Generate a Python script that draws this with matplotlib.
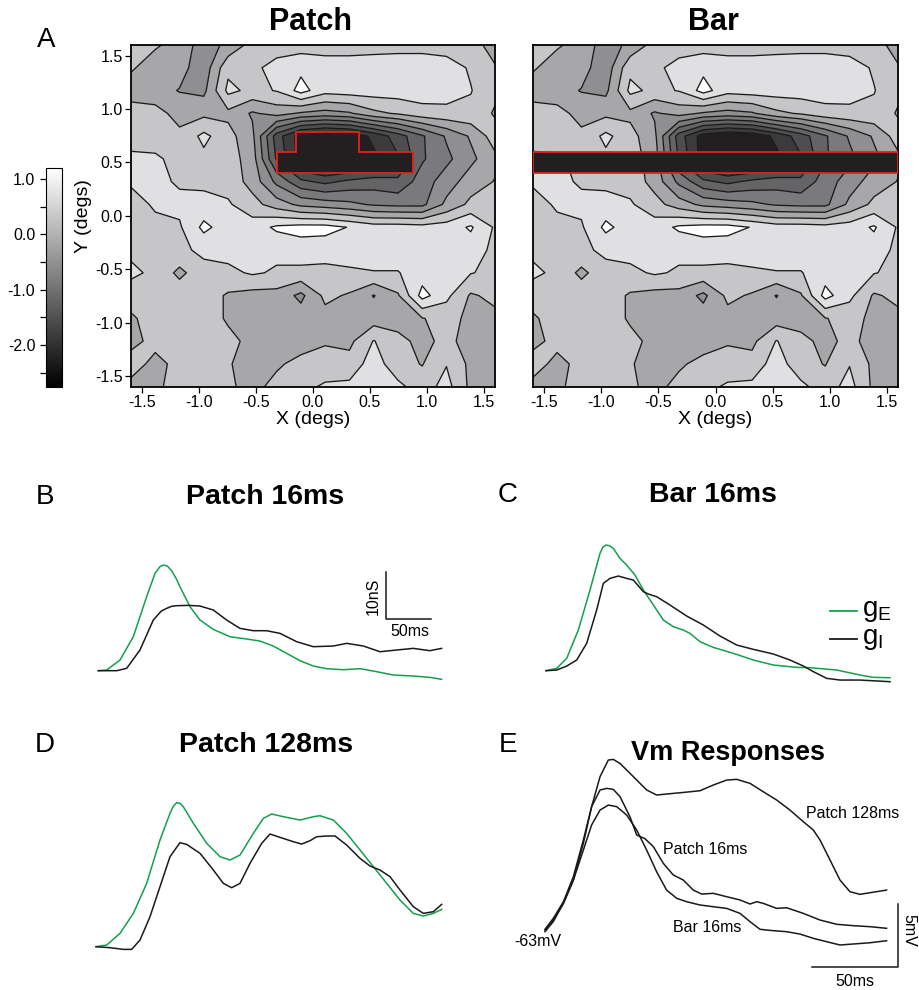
import numpy as np
import matplotlib
matplotlib.use('Agg')
import matplotlib.pyplot as plt
from matplotlib.patches import Polygon, Rectangle
from matplotlib import cm, colors as mcolors

plt.rcParams['font.family'] = ['Liberation Sans', 'DejaVu Sans']
plt.rcParams['mathtext.fontset'] = 'custom'
plt.rcParams['mathtext.rm'] = 'Liberation Sans'
plt.rcParams['contour.negative_linestyle'] = 'solid'

# ---------------- data: receptive-field maps (16 x 16 grid, rows top->bottom) ----------------
grid_x = np.linspace(-1.6, 1.6, 16)
grid_y_top_to_bottom = np.linspace(1.6, -1.6, 16)
rf_rows = [
    [0.2, 0.05, -0.15, -0.6, -0.3, 0.15, 0.2, 0.22, 0.22, 0.22, 0.22, 0.22, 0.22, 0.2, 0.1, -0.1],
    [0.05, -0.2, -0.25, -0.65, 0.3, 0.3, 0.55, 0.7, 0.6, 0.6, 0.65, 0.7, 0.7, 0.6, 0.35, 0.02],
    [-0.2, -0.25, -0.42, -0.5, 0.5, 0.3, 0.42, 0.95, 0.55, 0.6, 0.6, 0.6, 0.6, 0.55, 0.42, 0.1],
    [0.2, 0.15, -0.15, -0.1, -0.1, -0.45, -0.25, -0.45, -0.55, -0.45, -0.1, 0.05, 0.25, 0.3, 0.3, -0.05],
    [0.2, 0.25, 0.1, 0.5, 0.15, -0.3, -1.8, -2.6, -2.8, -2.7, -2.3, -1.8, -1.25, -0.75, -0.35, 0.2],
    [0.5, 0.45, 0.3, 0.3, 0.2, -0.2, -1.65, -2.6, -2.9, -2.8, -2.5, -2.05, -1.25, -0.9, -0.5, -0.1],
    [0.45, 0.5, 0.35, 0.3, 0.25, -0.15, -0.9, -1.5, -1.7, -1.5, -1.4, -1.5, -1.0, -0.6, -0.2, 0.02],
    [0.25, 0.45, 0.5, 0.55, 0.45, 0.15, -0.2, -0.5, -0.6, -0.7, -0.85, -0.9, -0.9, -0.3, 0.1, 0.2],
    [0.2, 0.3, 0.35, 0.9, 0.6, 0.6, 0.87, 0.95, 0.95, 0.78, 0.6, 0.6, 0.55, 0.6, 0.85, 0.35],
    [0.3, 0.3, 0.3, 0.5, 0.55, 0.5, 0.5, 0.6, 0.55, 0.55, 0.6, 0.6, 0.6, 0.6, 0.6, 0.3],
    [0.5, 0.3, -0.1, 0.25, 0.3, 0.45, 0.35, 0.3, 0.3, 0.35, 0.38, 0.38, 0.6, 0.6, 0.42, 0.3],
    [0.15, 0.25, 0.25, 0.2, -0.05, -0.15, -0.15, -0.5, 0.1, -0.05, -0.42, -0.05, 0.95, 0.5, -0.05, 0.1],
    [-0.05, 0.15, 0.25, 0.2, -0.05, -0.2, -0.2, -0.2, -0.15, -0.15, -0.2, -0.15, -0.02, 0.15, -0.1, -0.1],
    [-0.1, 0.1, 0.25, 0.2, 0.1, -0.1, -0.15, -0.15, -0.05, -0.1, 0.42, 0.1, -0.1, 0.1, -0.15, -0.1],
    [0.15, -0.1, 0.1, 0.25, 0.02, -0.1, -0.05, 0.1, 0.2, 0.15, 0.6, 0.15, -0.02, 0.38, -0.1, -0.15],
    [-0.1, -0.05, 0.1, 0.2, 0.05, -0.1, 0.1, 0.3, 0.45, 0.5, 0.6, 0.5, 0.2, 0.55, -0.1, -0.15],
]
contour_levels = [-2.4, -2.0, -1.6, -1.2, -0.8, -0.4, 0.0, 0.4, 0.8]
band_colors = ['#231f20', '#3b3a3c', '#4e4d50', '#646366', '#7a797c', '#8f8e91',
               '#a7a7aa', '#c6c6c8', '#e0e0e2', '#ffffff']
colorbar_range = (-2.75, 1.19)
colorbar_ticks = [1.0, 0.0, -1.0, -2.0]
colorbar_ticklabels = ['1.0', '0.0', '-1.0', '-2.0']
map_ticks = [-1.5, -1.0, -0.5, 0.0, 0.5, 1.0, 1.5]
map_ticklabels = ['-1.5', '-1.0', '-0.5', '0.0', '0.5', '1.0', '1.5']

patch_outline_x = [-0.317, 0.88, 0.88, 0.407, 0.407, -0.15, -0.15, -0.317]
patch_outline_y = [0.40, 0.40, 0.60, 0.60, 0.783, 0.783, 0.60, 0.60]
bar_x = (-1.595, 1.595)
bar_y = (0.40, 0.60)

# ---------------- data: conductance traces (ms, nS) ----------------
B_gE_t = [0, 9.3, 24.1, 38.9, 53.7, 63.0, 68.5, 72.2, 76.7, 81.5, 87.0, 90.7, 101.9, 113.0, 127.8, 146.3,
          164.8, 179.6, 194.4, 209.3, 224.1, 238.9, 253.7, 272.2, 290.8, 309.3, 327.8, 350.0, 368.5, 381.5]
B_gE = [0, 0.14, 2.27, 7.23, 15.74, 20.71, 22.13, 22.48, 22.27, 21.28, 19.43, 17.87, 13.62, 10.78, 8.79, 7.23,
        6.74, 6.31, 5.25, 3.69, 2.13, 0.99, 0.43, 0.21, 0.43, -0.21, -0.92, -1.13, -1.42, -1.84]
B_gI_t = [0, 20.4, 31.5, 46.3, 61.1, 70.0, 75.9, 81.5, 87.0, 100.0, 113.0, 127.8, 142.6, 157.4, 172.2,
          187.0, 201.9, 220.4, 238.9, 261.1, 276.0, 294.5, 313.0, 331.5, 350.0, 368.5, 381.5]
B_gI = [0, 0, 0.50, 4.40, 10.78, 12.7, 13.26, 13.7, 13.83, 13.9, 13.76, 12.91, 10.78, 9.01, 8.51,
        8.51, 7.94, 6.17, 5.11, 5.25, 5.82, 5.25, 4.04, 4.40, 4.75, 4.26, 4.75]

C_gE_t = [0, 11.9, 23.0, 35.9, 48.9, 60.0, 63.0, 66.7, 70.4, 74.8, 82.2, 89.6, 98.9, 108.2, 119.3, 130.4,
          141.5, 152.6, 160.0, 171.1, 185.9, 208.2, 230.4, 252.6, 278.5, 293.4, 323.0, 348.9, 363.7, 382.3]
C_gE = [0, 0.50, 2.62, 8.65, 17.16, 24.96, 26.24, 26.74, 26.60, 26.03, 23.90, 22.48, 20.35, 17.16, 13.97,
        10.78, 9.36, 8.65, 7.94, 6.17, 4.96, 3.69, 2.27, 1.21, 0.71, 0.64, 0.14, -0.92, -1.42, -1.49]
C_gI_t = [0, 11.9, 23.0, 34.1, 45.2, 56.3, 63.7, 71.1, 80.4, 89.6, 97.0, 108.2, 113.7, 123.0, 137.8,
          156.3, 174.8, 193.3, 211.9, 230.4, 252.6, 271.1, 286.0, 297.1, 311.9, 326.7, 348.9, 382.3]
C_gI = [0, 0.14, 0.99, 2.27, 5.82, 12.91, 18.58, 19.64, 20.14, 19.64, 19.29, 16.81, 16.31, 15.74, 13.97,
        11.63, 9.72, 7.38, 5.46, 4.54, 3.55, 2.27, 0.99, -0.21, -1.63, -1.99, -1.99, -2.34]

D_gE_t = [0, 11.9, 26.7, 41.5, 56.3, 71.1, 82.2, 86.0, 89.6, 93.3, 97.0, 108.2, 123.0, 137.8, 148.9, 160.0,
          174.8, 185.9, 195.2, 208.2, 226.7, 241.5, 248.9, 263.7, 278.5, 293.4, 308.2, 323.0, 337.8,
          352.6, 363.7, 374.8, 384.1]
D_gE = [0, 0.35, 2.84, 7.09, 13.47, 22.69, 28.37, 29.9, 30.64, 30.5, 29.79, 26.24, 21.99, 19.15, 18.44,
        19.50, 24.11, 27.30, 28.23, 27.66, 26.95, 27.66, 27.87, 26.95, 24.11, 20.57, 17.02, 13.47,
        9.93, 7.09, 6.52, 7.09, 7.94]
D_gI_t = [0, 15.6, 30.4, 39.6, 48.9, 60.0, 71.1, 82.2, 93.3, 100.7, 115.6, 130.4, 141.5, 150.7, 160.0,
          171.1, 184.1, 193.3, 204.5, 219.3, 228.5, 237.8, 245.2, 256.3, 265.6, 278.5, 293.4, 304.5,
          315.6, 326.7, 337.8, 352.6, 363.7, 374.8, 384.1]
D_gI = [0, -0.21, -0.57, -0.57, 1.42, 6.38, 12.77, 19.15, 22.13, 21.77, 19.86, 16.31, 13.47, 12.55, 13.47,
        17.73, 21.99, 23.97, 23.26, 22.34, 21.84, 22.55, 23.40, 23.55, 23.55, 21.63, 18.79, 17.16,
        16.31, 14.89, 12.06, 8.51, 7.09, 7.45, 9.01]

# ---------------- data: Vm traces (ms, mV) ----------------
E_t = [0, 4.8, 10.7, 16.5, 22.3, 27.1, 32.0, 36.8, 39.7, 43.6, 51.4, 59.1, 64.9, 70.7, 78.5, 90.1, 97.9,
       105.6, 111.4, 119.2, 126.9, 134.7, 142.4, 150.2, 156.0, 159.9, 165.7, 171.5, 177.3, 183.1, 189.0, 198.6]
E_patch128 = [-62.95, -62.15, -60.82, -58.96, -56.04, -53.11, -50.72, -49.39, -49.34, -49.66, -50.72,
              -51.78, -52.18, -52.10, -52.00, -51.84, -51.38, -50.99, -50.93, -51.25, -51.92, -52.58,
              -53.38, -54.31, -54.97, -55.77, -57.36, -58.96, -59.89, -60.10, -59.97, -59.76]
E_t16 = [0, 4.8, 10.7, 16.5, 22.3, 27.1, 32.0, 35.9, 39.7, 43.6, 49.4, 53.3, 58.1, 63.0, 68.8, 74.6, 80.4,
         86.2, 91.1, 97.9, 105.6, 113.4, 119.2, 123.1, 126.9, 134.7, 140.5, 150.2, 159.9, 169.6, 179.3,
         189.0, 198.6]
E_patch16 = [-62.89, -62.02, -60.69, -58.69, -55.77, -53.11, -51.78, -51.65, -51.73, -52.31, -53.91,
             -55.37, -55.66, -56.30, -57.63, -58.56, -58.96, -59.76, -60.08, -60.02, -60.29, -60.55,
             -60.87, -60.69, -60.82, -61.22, -61.17, -61.62, -62.15, -62.49, -62.60, -62.68, -62.81]
E_tbar = [0, 4.8, 10.7, 16.5, 22.3, 27.1, 32.0, 36.8, 41.7, 47.5, 53.3, 59.1, 64.9, 70.7, 76.6, 82.4,
          90.1, 97.9, 105.6, 113.4, 119.2, 125.0, 132.8, 140.5, 148.3, 156.0, 163.8, 171.5, 179.3,
          189.0, 198.6]
E_bar16 = [-63.08, -62.28, -60.82, -58.96, -56.57, -54.57, -53.38, -52.98, -53.11, -53.78, -54.97,
           -56.57, -58.30, -59.76, -60.42, -60.69, -60.95, -61.09, -61.22, -61.62, -62.28, -62.89,
           -63.00, -63.08, -63.27, -63.61, -63.88, -64.14, -64.06, -63.96, -63.80]

GREEN = '#12a04c'
W, H = 920, 990
fig = plt.figure(figsize=(W / 100, H / 100), dpi=100)


def px_axes(l, t, r, b):
    return fig.add_axes([l / W, 1 - b / H, (r - l) / W, (b - t) / H])


def ftext(x, y, s, **kw):
    return fig.text(x / W, 1 - y / H, s, **kw)


# ---------------- maps ----------------
Z = np.array(rf_rows)[::-1]
gy = grid_y_top_to_bottom[::-1]
fill_levels = [-10] + contour_levels + [10]


def draw_map(ax, ylabels):
    ax.contourf(grid_x, gy, Z, levels=fill_levels, colors=band_colors)
    ax.contour(grid_x, gy, Z, levels=contour_levels, colors='#1a1a1a', linewidths=0.95,
               linestyles='solid')
    ax.set_xlim(-1.6, 1.6)
    ax.set_ylim(-1.6, 1.6)
    ax.set_xticks(map_ticks)
    ax.set_xticklabels(map_ticklabels)
    ax.tick_params(direction='out', length=4, width=0.9, labelsize=11.5, pad=2)
    if ylabels:
        ax.set_yticks(map_ticks)
        ax.set_yticklabels(map_ticklabels)
    else:
        ax.set_yticks([])
    ax.set_xlabel('X (degs)', fontsize=14, labelpad=1)
    for sp in ax.spines.values():
        sp.set_linewidth(1.3)


axA = px_axes(131, 45, 495, 386.7)
draw_map(axA, True)
axA.set_ylabel('Y (degs)', fontsize=14, labelpad=2)
axA.add_patch(Polygon(np.column_stack([patch_outline_x, patch_outline_y]), closed=True,
                      facecolor='#231f20', edgecolor='#e3231b', linewidth=1.3, zorder=5))

axA2 = px_axes(532.7, 45, 898.3, 386.7)
draw_map(axA2, False)
axA2.add_patch(Rectangle((bar_x[0], bar_y[0]), bar_x[1] - bar_x[0], bar_y[1] - bar_y[0],
                         facecolor='#231f20', edgecolor='#e3231b', linewidth=1.3, zorder=5))

cax = px_axes(45.7, 168.3, 62.3, 386.7)
sm = cm.ScalarMappable(norm=mcolors.Normalize(*colorbar_range), cmap='gray')
cb = fig.colorbar(sm, cax=cax)
cb.set_ticks(colorbar_ticks)
cb.set_ticklabels(colorbar_ticklabels)
cax.yaxis.set_ticks_position('left')
cax.set_yticks([0.5, -0.5, -1.5, -2.5], minor=True)
cax.tick_params(which='both', direction='out', length=4, width=0.9, labelsize=11.5)
cb.outline.set_linewidth(0.8)

ftext(311, 22, 'Patch', fontsize=22, fontweight='bold', ha='center', va='center')
ftext(713, 22, 'Bar', fontsize=22, fontweight='bold', ha='center', va='center')


# ---------------- traces ----------------
def trace_axes(l, t, r, b, t0px, basepx, xperpx, yperpx, y0=0.0):
    ax = px_axes(l, t, r, b)
    ax.set_xlim((l - t0px) * xperpx, (r - t0px) * xperpx)
    ax.set_ylim(y0 + (basepx - b) * yperpx, y0 + (basepx - t) * yperpx)
    ax.axis('off')
    return ax


ms_px = 50 / 45
ns_px = 10 / 47
axB = trace_axes(85, 520, 460, 700, 98.3, 670.7, ms_px, ns_px)
axB.plot(B_gE_t, B_gE, color=GREEN, lw=1.1)
axB.plot(B_gI_t, B_gI, color='#1a1a1a', lw=1.1)
axB.plot([320, 320, 370], [21, 11, 11], color='#1a1a1a', lw=1.1)
axB.text(305, 15.8, '10nS', rotation=90, ha='center', va='center', fontsize=11.5)
axB.text(346, 8.4, '50ms', ha='center', va='center', fontsize=11.5)

axC = trace_axes(530, 520, 910, 700, 546, 670.7, ms_px, ns_px)
axC.plot(C_gE_t, C_gE, color=GREEN, lw=1.1)
axC.plot(C_gI_t, C_gI, color='#1a1a1a', lw=1.1)
axC.plot([315.6, 345.2], [12.6, 12.6], color=GREEN, lw=1.3)
axC.plot([315.6, 345.2], [6.75, 6.75], color='#1a1a1a', lw=1.3)
axC.text(351, 12.6, r'$\mathregular{g_E}$', fontsize=20, ha='left', va='center')
axC.text(351, 6.75, r'$\mathregular{g_I}$', fontsize=20, ha='left', va='center')

axD = trace_axes(85, 770, 460, 960, 96, 946.7, ms_px, ns_px)
axD.plot(D_gE_t, D_gE, color=GREEN, lw=1.1)
axD.plot(D_gI_t, D_gI, color='#1a1a1a', lw=1.1)

ms_px_E = 50 / 86
mv_px_E = 5 / 62.7
axE = trace_axes(530, 740, 915, 988, 545, 930.7, ms_px_E, mv_px_E, y0=-63.0)
axE.plot(E_t, E_patch128, color='#1a1a1a', lw=1.1)
axE.plot(E_t16, E_patch16, color='#1a1a1a', lw=1.1)
axE.plot(E_tbar, E_bar16, color='#1a1a1a', lw=1.1)
axE.plot([155.1, 205.1, 205.1], [-65.87, -65.87, -60.87], color='#1a1a1a', lw=1.1)

ftext(853, 813, 'Patch 128ms', fontsize=11.5, ha='center', va='center')
ftext(663, 850, 'Patch 16ms', fontsize=11.5, ha='left', va='center')
ftext(673, 927, 'Bar 16ms', fontsize=11.5, ha='left', va='center')
ftext(538, 942, '-63mV', fontsize=11.5, ha='center', va='center')
ftext(909, 930, '5mV', fontsize=11.5, rotation=270, ha='center', va='center')
ftext(855, 982, '50ms', fontsize=11.5, ha='center', va='center')

# titles and letters
ftext(265, 497, 'Patch 16ms', fontsize=20.5, fontweight='bold', ha='center', va='center')
ftext(713, 495, 'Bar 16ms', fontsize=20.5, fontweight='bold', ha='center', va='center')
ftext(266, 745, 'Patch 128ms', fontsize=20.5, fontweight='bold', ha='center', va='center')
ftext(728, 753, 'Vm Responses', fontsize=19.5, fontweight='bold', ha='center', va='center')
for letter, x, y in [('A', 46, 40), ('B', 45, 497), ('C', 508, 495), ('D', 45, 745), ('E', 508, 745)]:
    ftext(x, y, letter, fontsize=20, ha='center', va='center')

fig.savefig('out.png', dpi=100)
